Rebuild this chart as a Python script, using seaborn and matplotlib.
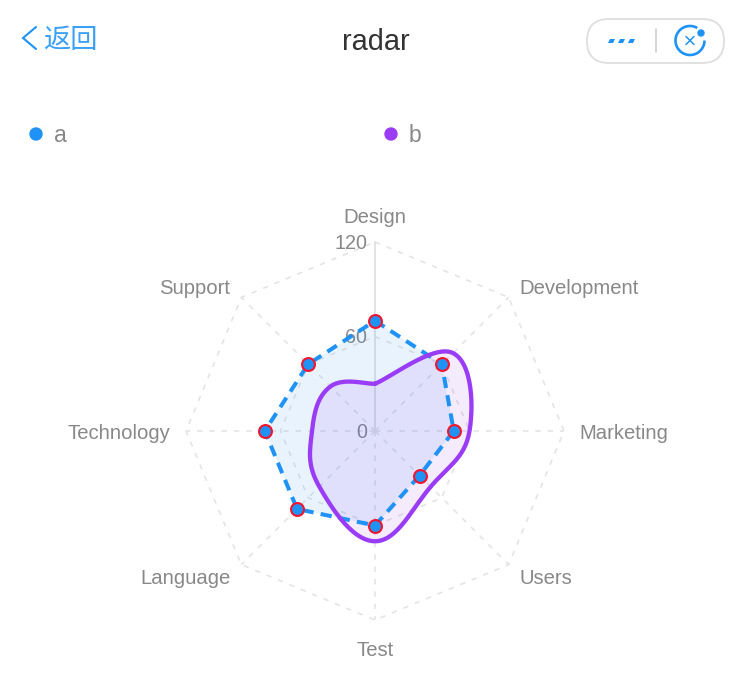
import numpy as np
import pandas as pd
import matplotlib
matplotlib.use('Agg')
import matplotlib.pyplot as plt
import seaborn as sns
from matplotlib.patches import Arc, Circle, FancyBboxPatch, Polygon

categories = ['Design', 'Development', 'Marketing', 'Users', 'Test', 'Language', 'Technology', 'Support']
values_a = [70, 60, 50, 40, 60, 70, 70, 60]
values_b = [30, 70, 60, 50, 70, 50, 40, 40]
rings = [60, 120]
ring_labels = ['0', '60', '120']

BLUE = '#1e93f5'
PURPLE = '#9a3cf5'
GREY = '#888888'
GRID = '#e4e4e4'
W, H = 748, 692
CX, CY = 375, 431
PX_PER_UNIT = 1.575


def to_xy(values):
    angles = np.arange(len(values)) * 2 * np.pi / len(values)
    return np.array(values) * np.sin(angles), np.array(values) * np.cos(angles)


# same control points as the chart lib: open ends give the kink at Design
def smooth(x, y, a=0.2, b=0.2, steps=30):
    px = np.r_[x, x[0]]
    py = np.r_[y, y[0]]
    n = len(px)
    out = []
    for i in range(n - 1):
        p0 = np.array([px[i], py[i]])
        p3 = np.array([px[i + 1], py[i + 1]])
        if i < 1:
            c1 = p0 + (p3 - p0) * a
        else:
            c1 = p0 + (p3 - np.array([px[i - 1], py[i - 1]])) * a
        if i > n - 3:
            c2 = p3 - (p3 - p0) * b
        else:
            c2 = p3 - (np.array([px[i + 2], py[i + 2]]) - p0) * b
        t = np.linspace(0, 1, steps)[:, None]
        out.append((1 - t) ** 3 * p0 + 3 * (1 - t) ** 2 * t * c1 + 3 * (1 - t) * t ** 2 * c2 + t ** 3 * p3)
    out = np.vstack(out)
    return out[:, 0], out[:, 1]


sns.set_theme(style='white')
plt.rcParams['font.family'] = ['Liberation Sans', 'Noto Sans CJK SC', 'DejaVu Sans']

fig = plt.figure(figsize=(W / 100, H / 100), dpi=100)
ax = fig.add_axes([0, 0, 1, 1])
ax.set_xlim(-CX / PX_PER_UNIT, (W - CX) / PX_PER_UNIT)
ax.set_ylim(-(H - CY) / PX_PER_UNIT, CY / PX_PER_UNIT)
ax.axis('off')

# grid
DASH = (0, (3.2, 4.2))
for r in rings:
    gx, gy = to_xy([r] * len(categories))
    ax.plot(np.r_[gx, gx[0]], np.r_[gy, gy[0]], color=GRID, lw=1.2, ls=DASH, zorder=1)
sx, sy = to_xy([rings[-1]] * len(categories))
for i in range(len(categories)):
    if i == 0:
        ax.plot([0, sx[i]], [0, sy[i]], color='#e0e0e0', lw=1.3, zorder=1)
    else:
        ax.plot([0, sx[i]], [0, sy[i]], color=GRID, lw=1.2, ls=DASH, zorder=1)

for val, lab in zip([0] + rings, ring_labels):
    ax.text(-5, val - 0.7, lab, ha='right', va='center', fontsize=14.2, color=GREY, zorder=1)

# category labels
lx, ly = to_xy([130] * len(categories))
label_shift = [0.2, 1.6, 1.8, 1.8, 3.2, 1.8, 1.4, 1.6]
for name, x, y, d in zip(categories, lx, ly, label_shift):
    ha = 'center' if abs(x) < 1 else ('left' if x > 0 else 'right')
    va = 'center' if abs(x) > 1 else ('bottom' if y > 0 else 'top')
    ax.text(x, y - d, name, ha=ha, va=va, fontsize=14.6, color=GREY)

# series a, straight dashed polygon with markers
ax_x, ax_y = to_xy(values_a)
ax.fill(ax_x, ax_y, color=BLUE, alpha=0.1, lw=0, zorder=2)
df_a = pd.DataFrame({'x': np.r_[ax_x, ax_x[0]], 'y': np.r_[ax_y, ax_y[0]]})
sns.lineplot(data=df_a, x='x', y='y', sort=False, estimator=None, ax=ax, color=BLUE,
             lw=2.9, linestyle=(0, (2.8, 1.8)), zorder=4)

# series b, smoothed
bx, by = to_xy(values_b)
cx, cy = smooth(bx, by)
ax.fill(cx, cy, color=PURPLE, alpha=0.1, lw=0, zorder=3)
df_b = pd.DataFrame({'x': cx, 'y': cy})
sns.lineplot(data=df_b, x='x', y='y', sort=False, estimator=None, ax=ax, color=PURPLE,
             lw=3.1, zorder=5)

sns.scatterplot(data=pd.DataFrame({'x': ax_x, 'y': ax_y}), x='x', y='y', ax=ax, s=86, color=BLUE,
                edgecolor='#f5142d', linewidth=1.5, zorder=6)
ax.set_xlabel('')
ax.set_ylabel('')

# page header and legend, drawn in pixels
top = fig.add_axes([0, 0, 1, 1], facecolor='none')
top.set_xlim(0, W)
top.set_ylim(H, 0)
top.axis('off')

top.plot([36, 23, 36], [27, 38, 49], color=BLUE, lw=1.5, solid_capstyle='round', solid_joinstyle='miter')
top.text(43, 41, '返回', fontsize=19.6, color='#3aa0f5', ha='left', va='center',
         family=['Noto Sans CJK SC', 'DejaVu Sans'])
top.text(376, 42, 'radar', fontsize=20.8, color='#333333', ha='center', va='center')

top.add_patch(FancyBboxPatch((587, 19), 137, 44, boxstyle='round,pad=0,rounding_size=22',
                             fc='white', ec='#dedede', lw=1.3))
for x0 in [608, 618, 628]:
    top.add_patch(Polygon([(x0 + 2, 39), (x0 + 7, 39), (x0 + 5, 43), (x0, 43)], color=BLUE, lw=0))
top.plot([656, 656], [29, 52], color='#cfcfcf', lw=1.2)
top.add_patch(Arc((690, 40.5), 29, 29, theta1=0, theta2=300, color=BLUE, lw=1.9))
top.add_patch(Circle((701, 33), 3, color=BLUE))
top.plot([686, 694], [36.5, 44.5], color=BLUE, lw=1.1)
top.plot([686, 694], [44.5, 36.5], color=BLUE, lw=1.1)

top.add_patch(Circle((36, 134), 6, color=BLUE))
top.text(54, 136, 'a', fontsize=16.5, color=GREY, ha='left', va='center')
top.add_patch(Circle((391, 134), 6, color=PURPLE))
top.text(409, 136, 'b', fontsize=16.5, color=GREY, ha='left', va='center')

fig.savefig('out.png', dpi=100, facecolor='white')
